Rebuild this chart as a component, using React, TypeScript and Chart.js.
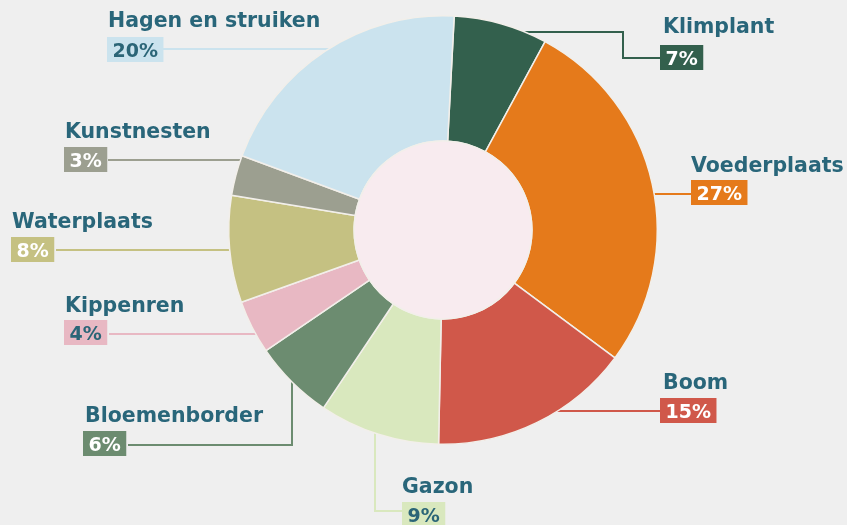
import React, { useEffect, useRef } from "react";
import { Chart, registerables } from "chart.js";

Chart.register(...registerables);

const categories = [
  "Klimplant",
  "Voederplaats",
  "Boom",
  "Gazon",
  "Bloemenborder",
  "Kippenren",
  "Waterplaats",
  "Kunstnesten",
  "Hagen en struiken",
];
const percentages = [7, 27, 15, 9, 6, 4, 8, 3, 20];
const sliceColors = [
  "#33604d",
  "#e57a1b",
  "#d0584a",
  "#d9e8be",
  "#6c8c70",
  "#e8b8c3",
  "#c5c182",
  "#9c9f90",
  "#cbe3ee",
];
const percentTextColors = [
  "#ffffff",
  "#ffffff",
  "#ffffff",
  "#2b6577",
  "#ffffff",
  "#2b6577",
  "#ffffff",
  "#ffffff",
  "#2b6577",
];

const TEXT_COLOR = "#29667a";
const BG = "#efefef";
const CENTER_FILL = "#f8ebef";
const BORDER = "#f2efea";

// layout of label blocks: name text (left, baseline), percent box (left, top),
// leader route points and the direction in which the last segment runs into the ring
type Dir = "left" | "right" | "up" | "down";
const labelLayout: { tx: number; ty: number; bx: number; by: number; route: number[][]; dir: Dir }[] = [
  { tx: 663, ty: 33, bx: 660, by: 45, route: [[660, 58], [623, 58], [623, 32]], dir: "left" },
  { tx: 691, ty: 172, bx: 691, by: 180, route: [[691, 194]], dir: "left" },
  { tx: 663, ty: 389, bx: 660, by: 398, route: [[660, 411]], dir: "left" },
  { tx: 402, ty: 493, bx: 402, by: 502, route: [[402, 511], [375, 511]], dir: "up" },
  { tx: 85, ty: 422, bx: 83, by: 431, route: [[128, 445], [292, 445]], dir: "up" },
  { tx: 65, ty: 312, bx: 64, by: 320, route: [[109, 334]], dir: "right" },
  { tx: 12, ty: 228, bx: 11, by: 237, route: [[56, 250]], dir: "right" },
  { tx: 65, ty: 138, bx: 64, by: 147, route: [[108, 160]], dir: "right" },
  { tx: 108, ty: 27, bx: 107, by: 37, route: [[163, 49]], dir: "right" },
];

const NAME_FONT = "bold 20.5px 'DejaVu Sans'";
const PCT_FONT = "bold 19px 'DejaVu Sans'";

const labelPlugin = {
  id: "customLabels",
  beforeDraw(chart: any) {
    const ctx = chart.ctx;
    ctx.save();
    ctx.fillStyle = BG;
    ctx.fillRect(0, 0, chart.width, chart.height);
    ctx.restore();
  },
  beforeDatasetsDraw(chart: any) {
    const ctx = chart.ctx;
    const arc = chart.getDatasetMeta(0).data[0];
    const { x: cx, y: cy, outerRadius: R } = arc.getProps(["x", "y", "outerRadius"], true);
    ctx.save();
    ctx.lineWidth = 2;
    ctx.lineJoin = "miter";
    labelLayout.forEach((l, i) => {
      ctx.strokeStyle = sliceColors[i];
      ctx.beginPath();
      l.route.forEach((p, k) => (k === 0 ? ctx.moveTo(p[0], p[1]) : ctx.lineTo(p[0], p[1])));
      const last = l.route[l.route.length - 1];
      const inset = 6;
      if (l.dir === "left" || l.dir === "right") {
        const dy = last[1] - cy;
        const dx = Math.sqrt(Math.max(R * R - dy * dy, 0));
        const ex = l.dir === "left" ? cx + dx - inset : cx - dx + inset;
        ctx.lineTo(ex, last[1]);
      } else {
        const dx = last[0] - cx;
        const dy = Math.sqrt(Math.max(R * R - dx * dx, 0));
        const ey = l.dir === "up" ? cy + dy - inset : cy - dy + inset;
        ctx.lineTo(last[0], ey);
      }
      ctx.stroke();
    });
    ctx.restore();
  },
  afterDatasetsDraw(chart: any) {
    const ctx = chart.ctx;
    const arc = chart.getDatasetMeta(0).data[0];
    const { x: cx, y: cy, innerRadius: r } = arc.getProps(["x", "y", "innerRadius"], true);
    ctx.save();
    ctx.beginPath();
    ctx.arc(cx, cy, r, 0, Math.PI * 2);
    ctx.fillStyle = CENTER_FILL;
    ctx.fill();
    ctx.lineWidth = 1.5;
    ctx.strokeStyle = BORDER;
    ctx.stroke();

    ctx.textBaseline = "alphabetic";
    ctx.textAlign = "left";
    labelLayout.forEach((l, i) => {
      ctx.font = NAME_FONT;
      ctx.fillStyle = TEXT_COLOR;
      ctx.fillText(categories[i], l.tx, l.ty);
      const pct = percentages[i] + "%";
      ctx.font = PCT_FONT;
      const w = ctx.measureText(pct).width;
      const bw = w + 11;
      const bh = 25;
      ctx.fillStyle = sliceColors[i];
      ctx.fillRect(l.bx, l.by, bw, bh);
      ctx.fillStyle = percentTextColors[i];
      ctx.fillText(pct, l.bx + 5.5, l.by + 19.5);
    });
    ctx.restore();
  },
};

export default function App() {
  const ref = useRef<HTMLCanvasElement | null>(null);
  useEffect(() => {
    if (!ref.current) return;
    const chart = new Chart(ref.current, {
      type: "doughnut",
      data: {
        labels: categories,
        datasets: [
          {
            data: percentages,
            backgroundColor: sliceColors,
            borderColor: BORDER,
            borderWidth: 1.5,
            hoverOffset: 0,
          },
        ],
      },
      options: {
        responsive: false,
        animation: false,
        rotation: 3,
        cutout: "41.5%",
        layout: { padding: { left: 228, right: 189, top: 15, bottom: 80 } },
        plugins: {
          legend: { display: false },
          tooltip: { enabled: false },
        },
      },
      plugins: [labelPlugin],
    });
    return () => chart.destroy();
  }, []);
  return (
    <div style={{ position: "fixed", left: 0, top: 0, width: 847, height: 525, background: BG }}>
      <canvas ref={ref} width={847} height={525} style={{ display: "block" }} />
    </div>
  );
}
